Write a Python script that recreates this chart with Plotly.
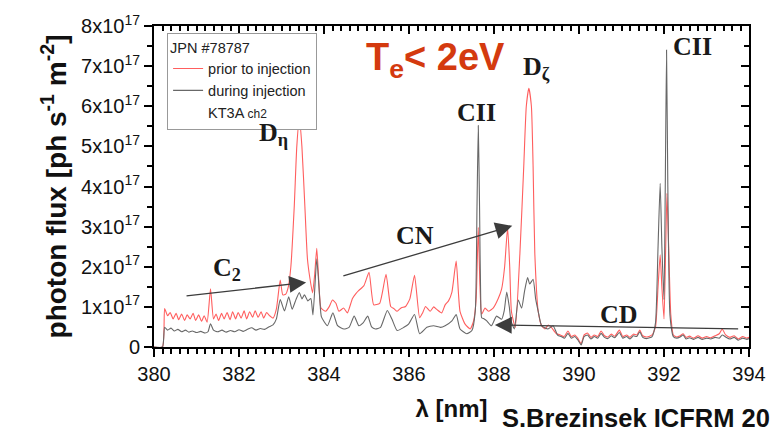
import plotly.graph_objects as go

# Spectrum vertices (wavelength in nm, photon flux in units of 1e17 ph s^-1 m^-2)
prior_wl = [380.0, 380.2, 380.25, 380.32, 380.38, 380.45, 380.52, 380.58, 380.65, 380.72, 380.78, 380.85,
            380.92, 380.98, 381.05, 381.12, 381.18, 381.25, 381.33, 381.4, 381.46, 381.52, 381.59, 381.65,
            381.72, 381.79, 381.85, 381.92, 381.98, 382.05, 382.12, 382.18, 382.25, 382.32, 382.38, 382.45,
            382.52, 382.58, 382.65, 382.72, 382.8, 382.88, 382.97, 383.03, 383.1, 383.16, 383.22, 383.3,
            383.36, 383.42, 383.48, 383.55, 383.61, 383.67, 383.73, 383.78, 383.83, 383.88, 383.93, 384.04,
            384.12, 384.2, 384.28, 384.35, 384.46, 384.55, 384.67, 384.75, 384.82, 384.94, 385.06, 385.17,
            385.31, 385.46, 385.57, 385.65, 385.72, 385.82, 385.92, 386.02, 386.13, 386.25, 386.32, 386.39,
            386.5, 386.58, 386.66, 386.77, 386.85, 386.93, 387.01, 387.11, 387.2, 387.32, 387.44, 387.52,
            387.58, 387.63, 387.67, 387.71, 387.79, 387.87, 387.98, 388.1, 388.18, 388.25, 388.32, 388.37,
            388.41, 388.5, 388.61, 388.7, 388.76, 388.82, 388.88, 388.92, 388.96, 389.04, 389.12, 389.2,
            389.28, 389.35, 389.47, 389.56, 389.65, 389.74, 389.82, 389.9, 389.97, 390.05, 390.12, 390.2,
            390.28, 390.36, 390.44, 390.52, 390.6, 390.68, 390.76, 390.84, 390.95, 391.03, 391.12, 391.2,
            391.28, 391.36, 391.43, 391.5, 391.6, 391.72, 391.8, 391.86, 391.91, 391.95, 392.0, 392.04,
            392.07, 392.11, 392.16, 392.22, 392.3, 392.38, 392.45, 392.52, 392.6, 392.7, 392.8, 392.9,
            393.0, 393.1, 393.2, 393.3, 393.37, 393.45, 393.55, 393.65, 393.75, 393.85, 393.95, 394.0]
prior_flux = [0.0, 0.0, 0.96, 0.78, 0.86, 0.7, 0.84, 0.68, 0.82, 0.66, 0.8, 0.7,
              0.84, 0.66, 0.8, 0.64, 0.78, 0.62, 1.45, 0.7, 0.82, 0.66, 0.84, 0.7,
              0.86, 0.68, 0.88, 0.7, 0.86, 0.72, 0.9, 0.7, 0.88, 0.74, 0.9, 0.74,
              0.88, 0.72, 0.86, 0.78, 0.72, 0.95, 1.67, 1.3, 1.32, 1.5, 2.0, 3.5,
              5.0, 5.7, 5.0, 3.5, 2.2, 1.7, 1.35, 1.8, 2.46, 1.6, 0.97, 0.89,
              1.0, 1.17, 1.09, 0.89, 0.97, 0.85, 1.21, 1.33, 1.41, 1.53, 1.86, 1.05,
              1.09, 1.81, 1.01, 0.95, 0.89, 0.98, 1.01, 1.2, 1.79, 0.73, 0.85, 1.01,
              0.89, 1.0, 0.93, 0.85, 1.05, 1.15, 1.37, 2.14, 0.89, 0.57, 0.45, 0.65,
              1.2, 2.98, 1.5, 0.82, 0.97, 0.89, 0.97, 1.21, 1.45, 2.0, 2.98, 2.0,
              0.89, 0.49, 2.34, 4.5, 6.0, 6.45, 6.0, 4.5, 2.34, 0.89, 0.53, 0.45,
              0.55, 0.49, 0.33, 0.3, 0.26, 0.4, 0.26, 0.3, 0.22, 0.08, 0.3, 0.35,
              0.24, 0.3, 0.26, 0.4, 0.28, 0.25, 0.32, 0.27, 0.42, 0.26, 0.3, 0.24,
              0.32, 0.3, 0.42, 0.28, 0.25, 0.3, 0.5, 1.5, 2.3, 1.5, 0.7, 2.5,
              3.83, 2.5, 0.8, 0.3, 0.25, 0.28, 0.33, 0.24, 0.27, 0.22, 0.28, 0.22,
              0.26, 0.23, 0.28, 0.33, 0.45, 0.3, 0.24, 0.28, 0.2, 0.26, 0.22, 0.24]

during_wl = [380.0, 380.2, 380.25, 380.32, 380.4, 380.48, 380.56, 380.65, 380.74, 380.82, 380.9, 381.0,
             381.1, 381.2, 381.27, 381.33, 381.4, 381.5, 381.6, 381.7, 381.8, 381.9, 382.0, 382.1,
             382.2, 382.3, 382.4, 382.5, 382.6, 382.7, 382.8, 382.88, 382.97, 383.07, 383.17, 383.25,
             383.34, 383.42, 383.48, 383.54, 383.62, 383.69, 383.74, 383.83, 383.9, 383.94, 384.08, 384.21,
             384.32, 384.47, 384.59, 384.71, 384.82, 384.92, 385.03, 385.12, 385.21, 385.33, 385.49, 385.6,
             385.72, 385.88, 385.99, 386.13, 386.25, 386.42, 386.58, 386.74, 386.85, 387.01, 387.11, 387.2,
             387.36, 387.48, 387.56, 387.6, 387.63, 387.66, 387.69, 387.71, 387.77, 387.83, 387.94, 388.06,
             388.18, 388.24, 388.3, 388.36, 388.4, 388.48, 388.57, 388.65, 388.72, 388.79, 388.84, 388.92,
             388.98, 389.04, 389.12, 389.27, 389.39, 389.5, 389.58, 389.66, 389.74, 389.82, 389.9, 389.97,
             390.05, 390.12, 390.2, 390.28, 390.36, 390.44, 390.52, 390.6, 390.68, 390.76, 390.84, 390.95,
             391.03, 391.12, 391.2, 391.28, 391.36, 391.43, 391.5, 391.6, 391.72, 391.8, 391.86, 391.91,
             391.95, 392.0, 392.03, 392.06, 392.09, 392.14, 392.22, 392.3, 392.38, 392.45, 392.52, 392.6,
             392.7, 392.8, 392.9, 393.0, 393.1, 393.2, 393.3, 393.37, 393.45, 393.55, 393.65, 393.75,
             393.85, 393.95, 394.0]
during_flux = [0.0, 0.0, 0.49, 0.42, 0.47, 0.4, 0.44, 0.38, 0.42, 0.37, 0.4, 0.36,
               0.39, 0.35, 0.38, 0.58, 0.42, 0.38, 0.42, 0.37, 0.41, 0.38, 0.43, 0.39,
               0.44, 0.48, 0.42, 0.46, 0.44, 0.5, 0.55, 0.7, 1.18, 0.9, 1.25, 0.94,
               1.18, 1.36, 1.2, 1.3, 1.15, 1.21, 0.8, 2.2, 1.2, 0.75, 0.53, 0.85,
               0.53, 0.45, 0.49, 0.77, 0.53, 0.6, 0.77, 0.5, 0.45, 0.49, 0.91, 0.69,
               0.41, 0.49, 0.57, 0.81, 0.33, 0.49, 0.53, 0.49, 0.53, 0.65, 0.81, 0.45,
               0.33, 0.41, 0.9, 3.5, 5.52, 3.5, 1.0, 0.73, 0.7, 0.65, 0.53, 0.77,
               0.69, 0.9, 1.37, 1.0, 0.65, 0.45, 1.17, 0.97, 1.4, 1.73, 1.57, 1.69,
               1.2, 0.89, 0.53, 0.45, 0.53, 0.29, 0.26, 0.22, 0.34, 0.22, 0.26, 0.18,
               0.05, 0.26, 0.3, 0.2, 0.26, 0.22, 0.34, 0.24, 0.21, 0.28, 0.23, 0.36,
               0.22, 0.26, 0.2, 0.28, 0.26, 0.38, 0.24, 0.21, 0.26, 0.6, 2.5, 4.08,
               2.5, 1.18, 4.0, 7.4, 4.0, 0.8, 0.26, 0.22, 0.25, 0.3, 0.2, 0.23,
               0.19, 0.24, 0.19, 0.22, 0.2, 0.24, 0.22, 0.3, 0.25, 0.2, 0.24, 0.17,
               0.22, 0.19, 0.21]

y_tickvals = [0, 1, 2, 3, 4, 5, 6, 7, 8]
y_ticktext = ["0"] + [f"{v}x10<sup>17</sup>" for v in y_tickvals[1:]]
x_tickvals = [380, 382, 384, 386, 388, 390, 392, 394]

# Line labels: (text, wavelength, flux)
line_labels = [
    ("D<sub>η</sub>", 382.8, 5.3),
    ("C<sub>2</sub>", 381.72, 1.95),
    ("CN", 386.13, 2.77),
    ("CII", 387.59, 5.85),
    ("D<sub>ζ</sub>", 389.0, 6.95),
    ("CII", 392.67, 7.5),
    ("CD", 390.93, 0.82),
]

# Trend arrows: (tail wavelength, tail flux, head wavelength, head flux)
trend_arrows = [
    (380.73, 1.27, 383.58, 1.61),
    (384.42, 1.76, 388.43, 3.02),
    (393.78, 0.45, 388.02, 0.55),
]

X_RANGE = [380, 394]
Y_RANGE = [0, 8]

fig = go.Figure()
fig.add_trace(go.Scatter(x=prior_wl, y=prior_flux, mode="lines", name="prior to injection",
                         line=dict(color="#ff5e5e", width=1.1, shape="spline", smoothing=0.5)))
fig.add_trace(go.Scatter(x=during_wl, y=during_flux, mode="lines", name="during injection",
                         line=dict(color="#686868", width=1.1, shape="spline", smoothing=0.5)))
fig.add_trace(go.Scatter(x=[None], y=[None], mode="lines",
                         name="KT3A <span style='font-size:12px'>ch2</span>",
                         line=dict(color="rgba(0,0,0,0)", width=0)))
# carrier for the top/right tick axes
fig.add_trace(go.Scatter(x=X_RANGE, y=Y_RANGE, xaxis="x2", yaxis="y2", mode="none",
                         showlegend=False, hoverinfo="skip"))

serif = "Liberation Serif, Times New Roman, serif"
sans = "Liberation Sans, Arial, sans-serif"

annotations = []
for text, wl, fl in line_labels:
    annotations.append(dict(x=wl, y=fl, xref="x", yref="y", text=f"<b>{text}</b>",
                            showarrow=False, font=dict(family=serif, size=26, color="#1a1a1a")))
for tx, ty, hx, hy in trend_arrows:
    annotations.append(dict(x=hx, y=hy, ax=tx, ay=ty, xref="x", yref="y", axref="x", ayref="y",
                            text="", showarrow=True, arrowhead=2, arrowsize=2.6, arrowwidth=1.3,
                            arrowcolor="#3c3c3c", standoff=0))
annotations.append(dict(x=386.63, y=7.16, xref="x", yref="y", text="<b>T<sub>e</sub>< 2eV</b>",
                        showarrow=False, font=dict(family=sans, size=38, color="#d43a0f")))
annotations.append(dict(x=0.582, y=-0.22, xref="paper", yref="paper", xanchor="left", yanchor="middle",
                        text="<b>S.Brezinsek ICFRM 20</b>", showarrow=False,
                        font=dict(family=sans, size=25.5, color="#111111")))

tick_font = dict(family=sans, size=20, color="#111111")

fig.update_layout(
    width=778, height=430,
    margin=dict(l=154, r=26, t=15, b=83),
    paper_bgcolor="white", plot_bgcolor="white",
    showlegend=True,
    legend=dict(x=0.022, y=0.979, xanchor="left", yanchor="top",
                bgcolor="white", bordercolor="#999999", borderwidth=1,
                font=dict(family=sans, size=14.5, color="#222222"),
                title=dict(text="JPN #78787", font=dict(family=sans, size=14.5, color="#222222")),
                tracegroupgap=0, itemwidth=30),
    xaxis=dict(range=X_RANGE, tickvals=x_tickvals, ticks="outside", ticklen=8, tickwidth=2,
               tickcolor="black", showline=True, linecolor="black", linewidth=2, mirror=True,
               showgrid=False, zeroline=False, tickfont=tick_font,
               minor=dict(dtick=0.2, ticks="outside", ticklen=5, tickwidth=1.5, tickcolor="black"),
               title=dict(text="<b>λ [nm]</b>", font=dict(family=sans, size=24, color="#111111"),
                          standoff=16)),
    yaxis=dict(range=Y_RANGE, tickvals=y_tickvals, ticktext=y_ticktext, ticks="outside", ticklen=8,
               tickwidth=2, tickcolor="black", showline=True, linecolor="black", linewidth=2,
               mirror=True, showgrid=False, zeroline=False, tickfont=tick_font,
               minor=dict(dtick=0.5, ticks="outside", ticklen=5, tickwidth=1.5, tickcolor="black"),
               title=dict(text="<b>photon flux [ph s<sup>-1</sup> m<sup>-2</sup>]</b>",
                          font=dict(family=sans, size=28, color="#111111"), standoff=6)),
    xaxis2=dict(range=X_RANGE, overlaying="x", side="top", anchor="y2", tickvals=x_tickvals,
                ticks="inside", ticklen=8, tickwidth=2, tickcolor="black", showticklabels=False,
                showline=False, showgrid=False, zeroline=False,
                minor=dict(dtick=0.2, ticks="inside", ticklen=5, tickwidth=1.5, tickcolor="black")),
    yaxis2=dict(range=Y_RANGE, overlaying="y", side="right", anchor="x2", tickvals=y_tickvals,
                ticks="inside", ticklen=8, tickwidth=2, tickcolor="black", showticklabels=False,
                showline=False, showgrid=False, zeroline=False,
                minor=dict(dtick=0.5, ticks="inside", ticklen=5, tickwidth=1.5, tickcolor="black")),
    annotations=annotations,
)

fig.write_html("out.html")
